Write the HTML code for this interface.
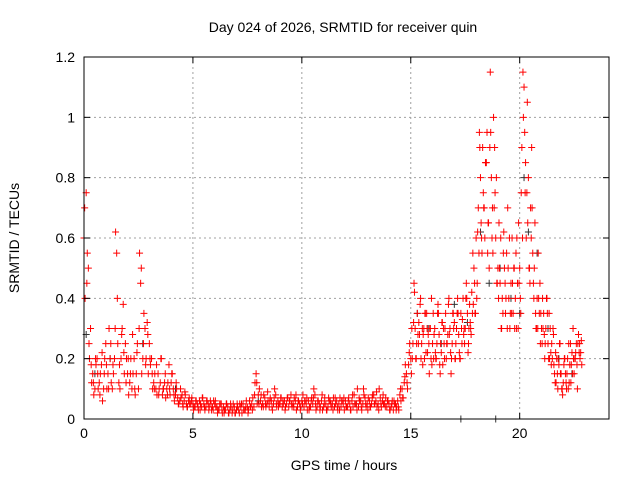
<!DOCTYPE html>
<html><head><meta charset="utf-8">
<style>
body{margin:0;background:#fff;}
svg{display:block;font-family:"Liberation Sans",sans-serif;}
</style></head>
<body>
<svg id="chart" width="640" height="480" viewBox="0 0 640 480">
<text x="343" y="32" text-anchor="middle" font-size="14" fill="#000">Day 024 of 2026, SRMTID for receiver quin</text>
<text x="344" y="470" text-anchor="middle" font-size="14" fill="#000">GPS time / hours</text>
<text transform="translate(19,238) rotate(-90)" text-anchor="middle" font-size="14" fill="#000">SRMTID / TECUs</text>
<g id="grid"></g>
<g id="marks"></g>
<rect x="84" y="57" width="525" height="362" fill="none" stroke="#000" stroke-width="1"/>
<g id="ticks"></g>
</svg>
<script>
const xTicks=[0,5,10,15,20];
const yTicks=[0,0.2,0.4,0.6,0.8,1,1.2];
const yTickLabels=["0","0.2","0.4","0.6","0.8","1","1.2"];
const redStart=0, redStep=0.1;
const redValues=[0.6,0.75,0.5,0.3,0.15,0.1,0.2,0.12,0.18,0.1,0.25,
0.15,0.2,0.1,0.2,0.55,0.12,0.2,0.38,0.25,0.15,
0.12,0.1,0.2,0.15,0.1,0.45,0.2,0.3,0.32,0.25,
0.2,0.12,0.1,0.15,0.12,0.08,0.12,0.1,0.18,0.12,
0.1,0.08,0.07,0.06,0.08,0.06,0.05,0.06,0.05,0.05,
0.04,0.05,0.06,0.04,0.05,0.04,0.05,0.06,0.04,0.05,
0.04,0.03,0.05,0.04,0.03,0.04,0.03,0.02,0.04,0.03,
0.03,0.04,0.05,0.03,0.04,0.06,0.05,0.04,0.15,0.08,
0.06,0.05,0.07,0.05,0.04,0.06,0.05,0.08,0.06,0.05,
0.04,0.06,0.05,0.04,0.08,0.05,0.06,0.04,0.05,0.06,
0.04,0.05,0.06,0.04,0.05,0.08,0.04,0.05,0.06,0.04,
0.05,0.04,0.06,0.05,0.04,0.06,0.05,0.04,0.05,0.06,
0.04,0.05,0.06,0.08,0.05,0.04,0.06,0.05,0.07,0.05,
0.06,0.05,0.08,0.06,0.05,0.07,0.06,0.05,0.04,0.05,
0.04,0.03,0.05,0.06,0.08,0.1,0.12,0.15,0.18,0.2,
0.25,0.3,0.35,0.28,0.25,0.3,0.22,0.28,0.3,0.25,
0.3,0.25,0.28,0.22,0.3,0.35,0.28,0.3,0.25,0.32,
0.3,0.28,0.35,0.4,0.3,0.35,0.38,0.42,0.5,0.6,
0.7,0.8,0.9,0.6,0.95,0.5,0.8,1.0,0.6,0.5,
0.45,0.4,0.5,0.55,0.4,0.45,0.35,0.4,0.45,0.5,
0.9,1.1,0.6,0.8,0.7,0.55,0.65,0.4,0.35,0.3,
0.35,0.3,0.25,0.3,0.2,0.15,0.2,0.18,0.15,0.12,
0.15,0.2,0.18,0.22,0.15,0.25,0.28,0.22];
const spreadStart=0.05, spreadStep=0.1;
const spreadValues=[0.4,0.55,0.2,0.12,0.08,0.18,0.1,0.15,0.06,0.2,0.1,
0.3,0.12,0.15,0.62,0.25,0.1,0.3,0.15,0.2,0.08,
0.2,0.15,0.08,0.25,0.55,0.15,0.35,0.2,0.15,0.18,
0.1,0.15,0.08,0.1,0.2,0.1,0.07,0.12,0.08,0.15,
0.06,0.1,0.05,0.07,0.04,0.08,0.04,0.05,0.07,0.04,
0.06,0.03,0.05,0.07,0.03,0.06,0.04,0.03,0.06,0.04,
0.03,0.05,0.02,0.03,0.05,0.02,0.04,0.05,0.02,0.04,
0.05,0.02,0.03,0.06,0.03,0.04,0.07,0.12,0.05,0.1,
0.04,0.08,0.04,0.06,0.07,0.03,0.1,0.04,0.05,0.07,
0.05,0.04,0.07,0.06,0.04,0.07,0.03,0.06,0.04,0.08,
0.06,0.03,0.04,0.07,0.1,0.03,0.06,0.04,0.03,0.07,
0.03,0.06,0.04,0.07,0.05,0.03,0.07,0.06,0.03,0.04,
0.07,0.03,0.04,0.05,0.1,0.06,0.03,0.08,0.04,0.07,
0.04,0.08,0.05,0.04,0.1,0.04,0.05,0.07,0.06,0.03,
0.06,0.05,0.04,0.03,0.06,0.07,0.18,0.1,0.25,0.3,
0.45,0.2,0.25,0.4,0.18,0.35,0.3,0.15,0.4,0.2,
0.2,0.38,0.15,0.32,0.2,0.25,0.4,0.15,0.35,0.2,
0.4,0.2,0.25,0.3,0.45,0.25,0.3,0.55,0.35,0.45,
0.95,0.6,0.7,0.85,0.65,1.15,0.7,0.9,0.45,0.65,
0.3,0.55,0.35,0.7,0.3,0.6,0.5,0.3,0.65,0.35,
1.15,0.75,1.05,0.5,0.9,0.4,0.3,0.55,0.25,0.4,
0.2,0.4,0.35,0.18,0.28,0.22,0.1,0.25,0.1,0.2,
0.1,0.25,0.12,0.3,0.2,0.1,0.25,0.18];
const extraStart=0.03, extraStep=0.1;
const extraValues=[0.7,0.45,0.25,0.18,0.12,0.2,0.15,0.08,0.22,0.15,0.18,
0.1,0.25,0.18,0.3,0.4,0.18,0.28,0.22,0.12,0.2,
0.15,0.28,0.1,0.22,0.3,0.5,0.25,0.18,0.28,0.2,
0.15,0.1,0.18,0.08,0.2,0.1,0.15,0.08,0.1,0.15,
0.08,0.12,0.05,0.1,0.05,0.09,0.04,0.07,0.06,0.03,
0.06,0.04,0.03,0.07,0.04,0.06,0.03,0.05,0.03,0.06,
0.02,0.05,0.03,0.02,0.05,0.02,0.05,0.03,0.02,0.05,
0.02,0.05,0.03,0.04,0.02,0.04,0.03,0.08,0.12,0.05,
0.08,0.04,0.05,0.09,0.06,0.04,0.07,0.05,0.04,0.07,
0.06,0.03,0.07,0.06,0.05,0.04,0.08,0.06,0.03,0.05,
0.06,0.07,0.03,0.06,0.07,0.05,0.06,0.03,0.08,0.05,
0.03,0.07,0.05,0.03,0.07,0.04,0.03,0.06,0.07,0.04,
0.06,0.03,0.08,0.05,0.03,0.07,0.04,0.1,0.05,0.03,
0.04,0.07,0.05,0.09,0.03,0.05,0.08,0.04,0.06,0.03,
0.05,0.06,0.03,0.04,0.1,0.07,0.14,0.12,0.22,0.15,
0.32,0.2,0.28,0.38,0.3,0.2,0.35,0.25,0.2,0.35,
0.22,0.35,0.18,0.32,0.25,0.2,0.38,0.22,0.35,0.2,
0.35,0.22,0.3,0.28,0.4,0.22,0.32,0.35,0.45,0.4,
0.55,0.65,0.75,0.85,0.55,0.9,0.6,0.7,0.8,0.4,
0.6,0.35,0.45,0.3,0.6,0.35,0.5,0.55,0.3,0.4,
0.6,0.95,0.75,0.5,0.6,0.45,0.35,0.3,0.45,0.25,
0.28,0.4,0.2,0.22,0.3,0.12,0.15,0.25,0.1,0.18,
0.12,0.1,0.25,0.15,0.2,0.18,0.22,0.26];
const lateStart=15.07, lateStep=0.1;
const lateValues=[0.2,0.42,0.25,0.32,0.2,0.28,0.35,0.22,0.3,0.18,
0.28,0.2,0.35,0.25,0.18,0.3,0.25,0.28,0.2,0.3,
0.25,0.35,0.2,0.33,0.25,0.4,0.3,0.28,0.38,0.35,
0.62,0.9,0.55,0.7,0.85,0.65,0.95,0.55,0.75,0.45,
0.5,0.3,0.62,0.4,0.5,0.35,0.45,0.3,0.6,0.45,
0.75,1.0,0.85,0.65,0.45,0.7,0.5,0.3,0.4,0.35,
0.3,0.25,0.35,0.2,0.25,0.18,0.12,0.2,0.15,0.08,
0.2,0.15,0.12,0.18,0.2,0.22,0.25,0.2];
const greyTimes=[0.1,0.5,1.2,2.7,4.2,8.0,12.5,15.3,15.8,16.4,17.0,17.6,18.2,18.6,19.1,19.6,20.0,20.4,20.8,21.3,21.8,22.4,17.3,18.9,20.2];
const greyValues=[0.28,0.15,0.2,0.25,0.1,0.06,0.05,0.35,0.3,0.25,0.38,0.32,0.62,0.45,0.5,0.4,0.35,0.62,0.55,0.3,0.2,0.15,0,0,0.8];

const X0=84,X1=609,Y0=419,Y1=57,XMAX=24.1,YMAX=1.2;
function xs(t){return X0+(X1-X0)*t/XMAX;}
function ys(v){return Y0-(Y0-Y1)*v/YMAX;}
const NS="http://www.w3.org/2000/svg";
const grid=document.getElementById('grid'),ticks=document.getElementById('ticks'),marks=document.getElementById('marks');
function mk(tag,attrs,parent){const e=document.createElementNS(NS,tag);for(const k in attrs)e.setAttribute(k,attrs[k]);parent.appendChild(e);return e;}
xTicks.forEach((t,i)=>{
  const x=xs(t);
  if(t>0){const g=mk('line',{x1:x,x2:x,y1:Y1,y2:Y0,stroke:'#a0a0a0','stroke-dasharray':'2,3'},grid);
  
  }
  mk('line',{x1:x,x2:x,y1:Y0,y2:Y0-6,stroke:'#000'},ticks);
  mk('line',{x1:x,x2:x,y1:Y1,y2:Y1+6,stroke:'#000'},ticks);
  const l=mk('text',{x:x,y:Y0+19,'text-anchor':'middle','font-size':'14'},ticks);
  l.textContent=String(t);
  
  
});
yTicks.forEach((v,i)=>{
  const y=ys(v);
  if(v>0&&v<YMAX){const g=mk('line',{x1:X0,x2:X1,y1:y,y2:y,stroke:'#a0a0a0','stroke-dasharray':'2,3'},grid);
  
  }
  mk('line',{x1:X0,x2:X0+6,y1:y,y2:y,stroke:'#000'},ticks);
  mk('line',{x1:X1,x2:X1-6,y1:y,y2:y,stroke:'#000'},ticks);
  const l=mk('text',{x:X0-9,y:y+5,'text-anchor':'end','font-size':'14'},ticks);
  l.textContent=yTickLabels[i];
  
  
});
function plus(t,v,color,name){
  const x=xs(t),y=ys(v);
  const p=mk('path',{d:`M${x-3.5},${y}h7M${x},${y-3.5}v7`,stroke:color,'stroke-width':'1',fill:'none'},marks);
  
  
}
greyValues.forEach((v,i)=>plus(greyTimes[i],v,'#333','grey-point'));
redValues.forEach((v,i)=>plus(redStart+i*redStep,v,'#ff0000','red-point'));
spreadValues.forEach((v,i)=>plus(spreadStart+i*spreadStep,v,'#ff0000','red-point'));
extraValues.forEach((v,i)=>plus(extraStart+i*extraStep,v,'#ff0000','red-point'));
lateValues.forEach((v,i)=>plus(lateStart+i*lateStep,v,'#ff0000','red-point'));
</script>
</body></html>
